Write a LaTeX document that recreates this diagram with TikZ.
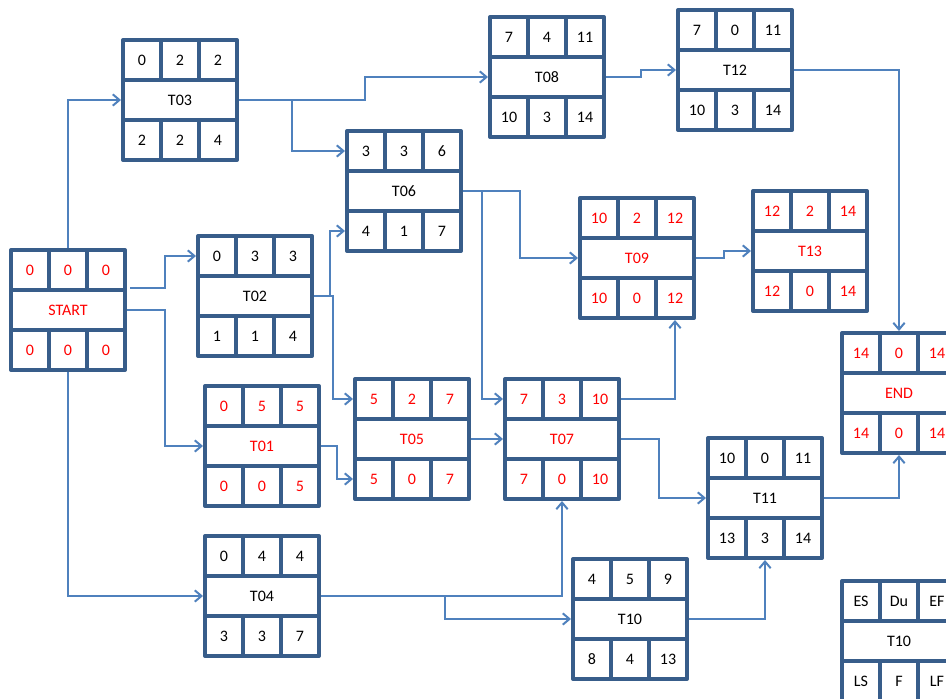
\documentclass[tikz,border=0pt]{standalone}
\usepackage{fontspec}
\setmainfont{Carlito}
\usetikzlibrary{arrows.meta,calc}
\definecolor{boxc}{HTML}{385D8A}
\definecolor{linec}{HTML}{4F81BD}
\newcommand{\taskhead}[8]{%
  \node[cell,#4] (#1-es) at (#2+19,#3+20) {#5};
  \node[cell,#4] (#1-du) at (#2+57,#3+20) {#6};
  \node[cell,#4] (#1-ef) at (#2+95,#3+20) {#7};
  \node[namecell,#4] (#1-n) at (#2+57,#3+60) {#8};
}
\newcommand{\taskfoot}[7]{%
  \node[cell,#4] (#1-ls) at (#2+19,#3+100) {#5};
  \node[cell,#4] (#1-f) at (#2+57,#3+100) {#6};
  \node[cell,#4] (#1-lf) at (#2+95,#3+100) {#7};
}
\begin{document}
\begin{tikzpicture}[x=0.75pt,y=-0.75pt,
  cell/.style={draw=boxc, line width=3pt, line join=round, minimum width=28.5pt,
    minimum height=30pt, inner sep=0pt, outer sep=1.5pt, font=\fontsize{12}{14}\selectfont},
  namecell/.style={cell, minimum width=85.5pt},
  crit/.style={text=red},
  norm/.style={text=black},
  conn/.style={draw=linec, line width=1.5pt, line join=miter,
    -{Straight Barb[length=5pt,width=8.5pt,line width=1.5pt]}}]
\useasboundingbox (0,0) rectangle (946,699);
\clip (0,0) rectangle (946,699);
\fill[white] (0,0) rectangle (946,699);

% boxes
\taskhead{START}{11}{250}{crit}{0}{0}{0}{START}
\taskfoot{START}{11}{250}{crit}{0}{0}{0}
\taskhead{T03}{123}{40}{norm}{0}{2}{2}{T03}
\taskfoot{T03}{123}{40}{norm}{2}{2}{4}
\taskhead{T02}{198}{236}{norm}{0}{3}{3}{T02}
\taskfoot{T02}{198}{236}{norm}{1}{1}{4}
\taskhead{T06}{347}{131}{norm}{3}{3}{6}{T06}
\taskfoot{T06}{347}{131}{norm}{4}{1}{7}
\taskhead{T08}{490}{17}{norm}{7}{4}{11}{T08}
\taskfoot{T08}{490}{17}{norm}{10}{3}{14}
\taskhead{T12}{678}{10}{norm}{7}{0}{11}{T12}
\taskfoot{T12}{678}{10}{norm}{10}{3}{14}
\taskhead{T09}{580}{198}{crit}{10}{2}{12}{T09}
\taskfoot{T09}{580}{198}{crit}{10}{0}{12}
\taskhead{T13}{753}{191}{crit}{12}{2}{14}{T13}
\taskfoot{T13}{753}{191}{crit}{12}{0}{14}
\taskhead{END}{842}{333}{crit}{14}{0}{14}{END}
\taskfoot{END}{842}{333}{crit}{14}{0}{14}
\taskhead{T01}{205}{386}{crit}{0}{5}{5}{T01}
\taskfoot{T01}{205}{386}{crit}{0}{0}{5}
\taskhead{T05}{355}{379}{crit}{5}{2}{7}{T05}
\taskfoot{T05}{355}{379}{crit}{5}{0}{7}
\taskhead{T07}{505}{379}{crit}{7}{3}{10}{T07}
\taskfoot{T07}{505}{379}{crit}{7}{0}{10}
\taskhead{T11}{708}{438}{norm}{10}{0}{11}{T11}
\taskfoot{T11}{708}{438}{norm}{13}{3}{14}
\taskhead{T04}{205}{536}{norm}{0}{4}{4}{T04}
\taskfoot{T04}{205}{536}{norm}{3}{3}{7}
\taskhead{T10}{573}{559}{norm}{4}{5}{9}{T10}
\taskfoot{T10}{573}{559}{norm}{8}{4}{13}
\taskhead{LEG}{842}{581}{norm}{ES}{Du}{EF}{T10}
\taskfoot{LEG}{842}{581}{norm}{LS}{F}{LF}

% connectors
\coordinate (s2) at ($(START-ef.south east)+(3,-4)$);
\draw[conn] (START-du.north) |- (T03-n.west);
\draw[conn] (s2) -- ++(35,0) |- (T02-es.west);
\draw[conn] (START-n.east) -- ++(38,0) |- (T01-n.west);
\draw[conn] (START-f.south) |- (T04-n.west);
\draw[conn] (T03-n.east) -- ++(126,0) |- (T08-n.west);
\draw[conn] (T03-n.east) -- ++(53,0) |- (T06-es.west);
\draw[conn] (T02-n.east) -- ++(16,0) |- (T06-ls.west);
\draw[conn] (T02-n.east) -- ++(19,0) |- (T05-es.west);
\draw[conn] (T01-n.east) -- ++(16,0) |- (T05-ls.west);
\draw[conn] (T05-n.east) -- (T07-n.west);
\draw[conn] (T06-n.east) -- ++(19,0) |- (T07-es.west);
\draw[conn] (T06-n.east) -- ++(57,0) |- (T09-n.west);
\draw[conn] (T07-ef.east) -| (T09-lf.south);
\draw[conn] (T07-n.east) -- ++(38,0) |- (T11-n.west);
\draw[conn] (T04-n.east) -| (T07-f.south);
\draw[conn] (T04-n.east) -- ++(124,0) |- (T10-n.west);
\draw[conn] (T10-n.east) -| (T11-f.south);
\draw[conn] (T08-n.east) -- ++(35,0) |- (T12-n.west);
\draw[conn] (T09-n.east) -- ++(28,0) |- (T13-n.west);
\draw[conn] (T12-n.east) -| (END-du.north);
\draw[conn] (T11-n.east) -| (END-f.south);
\end{tikzpicture}
\end{document}
